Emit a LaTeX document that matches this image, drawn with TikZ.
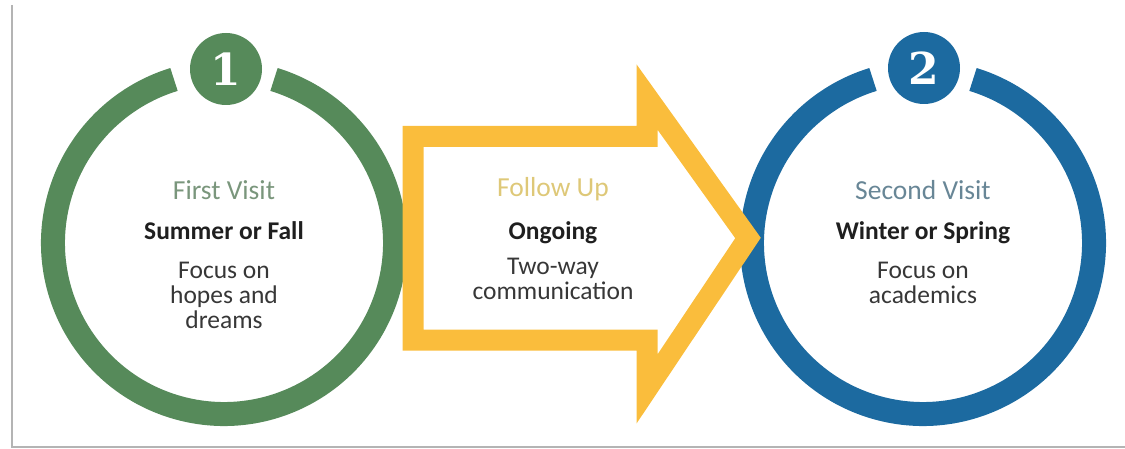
\documentclass[tikz,border=0pt]{standalone}
\usepackage{fontspec}
\setmainfont{Carlito}
\newfontfamily\badgefont{DejaVu Serif}
\usetikzlibrary{positioning}

\definecolor{visitgreen}{RGB}{86,138,90}
\definecolor{visitblue}{RGB}{28,106,160}
\definecolor{followyellow}{RGB}{250,189,60}
\definecolor{greentitle}{RGB}{122,150,124}
\definecolor{bluetitle}{RGB}{104,134,150}
\definecolor{yellowtitle}{RGB}{222,200,120}
\definecolor{bodygray}{RGB}{55,55,55}
\definecolor{framegray}{RGB}{180,180,180}

\begin{document}
\begin{tikzpicture}[
        x=1pt, y=-1pt,
        declare function={
            RingR=171;
            GapA=17;
        },
        ring/.style={line width=24pt},
        badge/.style={circle, minimum size=72pt, inner sep=0pt, text=white,
            font=\badgefont\bfseries\fontsize{44}{44}\selectfont},
        title/.style={anchor=base, inner sep=0pt, font=\fontsize{27.5}{27.5}\selectfont},
        season/.style={anchor=base, inner sep=0pt, text=black!88,
            font=\bfseries\fontsize{25.5}{25.5}\selectfont},
        body/.style={anchor=north, inner sep=0pt, align=center, text=bodygray,
            font=\fontsize{25.5}{25}\selectfont}
    ]
        \useasboundingbox (0,0) rectangle (1125,449);
        \draw[framegray, line width=1.5pt] (12,5) -- (12,447) -- (1125,447);

        \coordinate (gc) at (224,243);
        \coordinate (bc) at (923,243);

        % rings with a gap at the top
        \draw[ring, visitgreen] (gc) ++(-90+GapA:RingR) arc[start angle=-90+GapA, end angle=270-GapA, radius=RingR];
        \draw[ring, visitblue] (bc) ++(-90+GapA:RingR) arc[start angle=-90+GapA, end angle=270-GapA, radius=RingR];

        \node[badge, fill=visitgreen] (one) at (226,69) {1};
        \node[badge, fill=visitblue] (two) at (924,68) {2};

        % follow-up arrow
        \draw[followyellow, line width=21pt, line join=miter]
            (413,136.5) -- (647,136.5) -- (647,97) -- (748,238) -- (647,389) -- (647,340) -- (413,340) -- cycle;

        \node[title, text=greentitle] (firsttitle) at (224,200) {First Visit};
        \node[season] (firstseason) at (224,240) {Summer or Fall};
        \node[body] (firstbody) at (224,261.5) {Focus on\\hopes and\\dreams};

        \node[title, text=yellowtitle] (followtitle) at (553,197) {Follow Up};
        \node[season] (followseason) at (553,240) {Ongoing};
        \node[body] (followbody) at (553,258) {Two-way\\communication};

        \node[title, text=bluetitle] (secondtitle) at (923,200) {Second Visit};
        \node[season] (secondseason) at (923,240) {Winter or Spring};
        \node[body] (secondbody) at (923,261.5) {Focus on\\academics};
    \end{tikzpicture}
\end{document}
